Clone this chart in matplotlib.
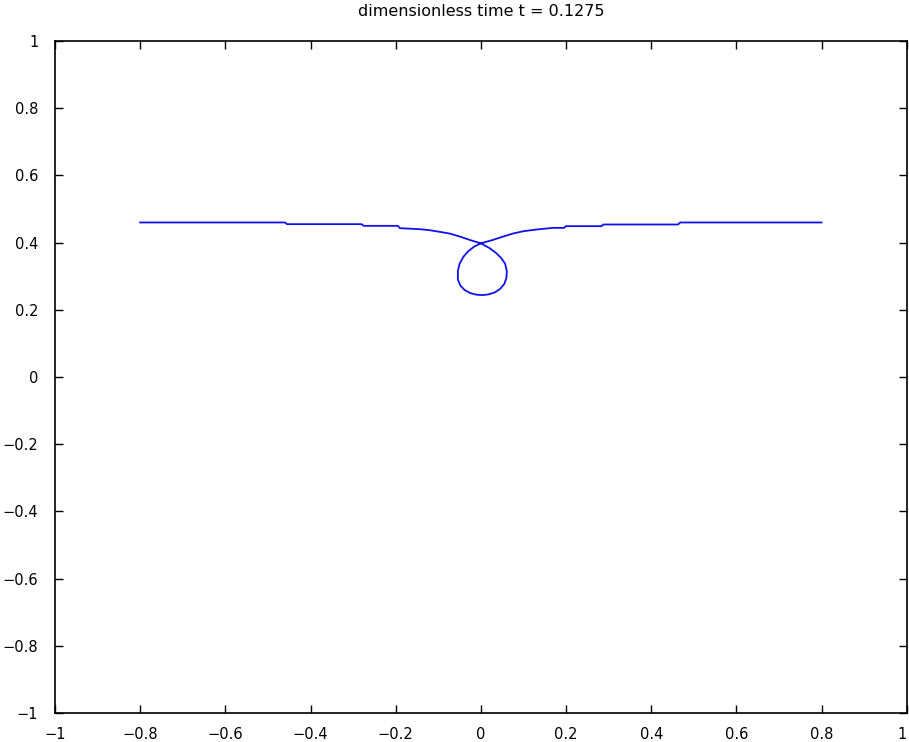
import matplotlib
matplotlib.use('Agg')
import matplotlib.pyplot as plt

plt.rcParams['font.family'] = ['DejaVu Sans']

# interface position: left branch -> loop -> right branch
xs = [-0.8, -0.46, -0.455, -0.28, -0.275, -0.195, -0.19, -0.143, -0.12, -0.096,
      -0.073, -0.049, -0.026, 0.0,
      0.02, 0.035, 0.048, 0.057, 0.061, 0.060, 0.055, 0.045, 0.033, 0.018, 0.005,
      -0.010, -0.025, -0.038, -0.048, -0.054, -0.054, -0.050, -0.041, -0.030, -0.016, 0.0,
      0.028, 0.052, 0.075, 0.1, 0.13, 0.17, 0.195, 0.2, 0.283, 0.288, 0.463, 0.468, 0.8]
ys = [0.460, 0.460, 0.455, 0.455, 0.450, 0.450, 0.443, 0.440, 0.437, 0.432,
      0.427, 0.418, 0.408, 0.398,
      0.384, 0.370, 0.354, 0.337, 0.315, 0.295, 0.277, 0.262, 0.252, 0.246, 0.244,
      0.245, 0.250, 0.259, 0.272, 0.290, 0.315, 0.337, 0.358, 0.374, 0.388, 0.398,
      0.408, 0.418, 0.427, 0.434, 0.439, 0.444, 0.444, 0.449, 0.449, 0.454, 0.454, 0.460, 0.460]

ticks = [-1, -0.8, -0.6, -0.4, -0.2, 0, 0.2, 0.4, 0.6, 0.8, 1]
tick_labels = ['\u22121', '\u22120.8', '\u22120.6', '\u22120.4', '\u22120.2', '0',
               '0.2', '0.4', '0.6', '0.8', '1']

fig = plt.figure(figsize=(9.09, 7.42), dpi=100)
ax = fig.add_axes([0.0605, 0.039, 0.937, 0.9057])
ax.plot(xs, ys, color='#1010ee', lw=1.3)

ax.set_xlim(-1, 1)
ax.set_ylim(-1, 1)
ax.set_xticks(ticks)
ax.set_xticklabels(tick_labels)
ax.set_yticks(ticks)
ax.set_yticklabels(tick_labels)
ax.tick_params(direction='in', top=True, right=True, length=6, labelsize=10.5, width=1)
ax.tick_params(axis='x', pad=10)
ax.tick_params(axis='y', pad=12)
for s in ax.spines.values():
    s.set_linewidth(1.2)

# keep the last x label inside the figure edge
ax.get_xticklabels()[-1].set_horizontalalignment('right')

ax.set_title('dimensionless time t = 0.1275', fontsize=11.5, pad=18)

fig.savefig('out.png', dpi=100)
